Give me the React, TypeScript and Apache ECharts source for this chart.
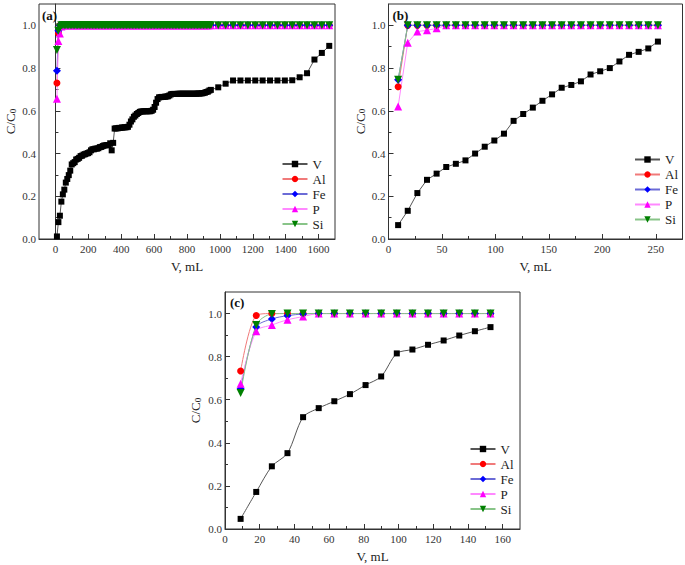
import React, { useEffect, useRef } from "react";
import * as echarts from "echarts";

// ---------- Panel (a) ----------
const aVolume = [
  9, 18, 27, 36, 45, 54, 63, 72, 81, 90,
  99, 108, 117, 126, 135, 144, 153, 162, 171, 180,
  189, 198, 207, 216, 225, 234, 243, 252, 261, 270,
  279, 288, 297, 306, 315, 324, 333, 342, 351, 360,
  369, 378, 387, 396, 405, 414, 423, 432, 441, 450,
  459, 468, 477, 486, 495, 504, 513, 522, 531, 540,
  549, 558, 567, 576, 585, 594, 603, 612, 621, 630,
  639, 648, 657, 666, 675, 684, 693, 702, 711, 720,
  729, 738, 747, 756, 765, 774, 783, 792, 801, 810,
  819, 828, 837, 846, 855, 864, 873, 882, 891, 900,
  909, 918, 927, 936, 945,
  990, 1035, 1080, 1125, 1170, 1215, 1260, 1305, 1350, 1395, 1440, 1485, 1530, 1575, 1620, 1665,
];
const aV = [
  0.012, 0.079, 0.109, 0.175, 0.209, 0.231, 0.264, 0.281, 0.299, 0.32,
  0.349, 0.355, 0.36, 0.372, 0.375, 0.38, 0.388, 0.39, 0.395, 0.397,
  0.4, 0.402, 0.406, 0.415, 0.42, 0.42, 0.423, 0.423, 0.425, 0.43,
  0.431, 0.435, 0.438, 0.438, 0.44, 0.44, 0.448, 0.415, 0.45, 0.517,
  0.518, 0.518, 0.52, 0.52, 0.522, 0.522, 0.523, 0.523, 0.525, 0.535,
  0.55, 0.56, 0.572, 0.578, 0.585, 0.59, 0.595, 0.597, 0.597, 0.598,
  0.598, 0.598, 0.598, 0.598, 0.6, 0.605, 0.618, 0.638, 0.655, 0.663,
  0.664, 0.665, 0.665, 0.666, 0.667, 0.668, 0.672, 0.677, 0.679, 0.679,
  0.679, 0.679, 0.68, 0.68, 0.68, 0.68, 0.68, 0.68, 0.68, 0.68,
  0.68, 0.68, 0.68, 0.68, 0.68, 0.681, 0.681, 0.681, 0.682, 0.683,
  0.685, 0.688, 0.69, 0.695, 0.698,
  0.71, 0.727, 0.742, 0.742, 0.742, 0.742, 0.742, 0.742, 0.742, 0.742, 0.743, 0.757, 0.776, 0.84, 0.871, 0.904,
];
const aAl = [
  0.73, 0.963, 1, 1, 1, 1, 1, 1, 1, 1,
  1, 1, 1, 1, 1, 1, 1, 1, 1, 1,
  1, 1, 1, 1, 1, 1, 1, 1, 1, 1,
  1, 1, 1, 1, 1, 1, 1, 1, 1, 1,
  1, 1, 1, 1, 1, 1, 1, 1, 1, 1,
  1, 1, 1, 1, 1, 1, 1, 1, 1, 1,
  1, 1, 1, 1, 1, 1, 1, 1, 1, 1,
  1, 1, 1, 1, 1, 1, 1, 1, 1, 1,
  1, 1, 1, 1, 1, 1, 1, 1, 1, 1,
  1, 1, 1, 1, 1, 1, 1, 1, 1, 1,
  1, 1, 1, 1, 1,
  1, 1, 1, 1, 1, 1, 1, 1, 1, 1, 1, 1, 1, 1, 1, 1,
];
const aFe = [
  0.788, 0.975, 1, 1, 1, 1, 1, 1, 1, 1,
  1, 1, 1, 1, 1, 1, 1, 1, 1, 1,
  1, 1, 1, 1, 1, 1, 1, 1, 1, 1,
  1, 1, 1, 1, 1, 1, 1, 1, 1, 1,
  1, 1, 1, 1, 1, 1, 1, 1, 1, 1,
  1, 1, 1, 1, 1, 1, 1, 1, 1, 1,
  1, 1, 1, 1, 1, 1, 1, 1, 1, 1,
  1, 1, 1, 1, 1, 1, 1, 1, 1, 1,
  1, 1, 1, 1, 1, 1, 1, 1, 1, 1,
  1, 1, 1, 1, 1, 1, 1, 1, 1, 1,
  1, 1, 1, 1, 1,
  1, 1, 1, 1, 1, 1, 1, 1, 1, 1, 1, 1, 1, 1, 1, 1,
];
const aP = [
  0.656, 0.927, 0.962, 0.995, 1, 1, 1, 1, 1, 1,
  1, 1, 1, 1, 1, 1, 1, 1, 1, 1,
  1, 1, 1, 1, 1, 1, 1, 1, 1, 1,
  1, 1, 1, 1, 1, 1, 1, 1, 1, 1,
  1, 1, 1, 1, 1, 1, 1, 1, 1, 1,
  1, 1, 1, 1, 1, 1, 1, 1, 1, 1,
  1, 1, 1, 1, 1, 1, 1, 1, 1, 1,
  1, 1, 1, 1, 1, 1, 1, 1, 1, 1,
  1, 1, 1, 1, 1, 1, 1, 1, 1, 1,
  1, 1, 1, 1, 1, 1, 1, 1, 1, 1,
  1, 1, 1, 1, 1,
  1, 1, 1, 1, 1, 1, 1, 1, 1, 1, 1, 1, 1, 1, 1, 1,
];
const aSi = [
  0.885, 0.975, 0.99, 1, 1, 1, 1, 1, 1, 1,
  1, 1, 1, 1, 1, 1, 1, 1, 1, 1,
  1, 1, 1, 1, 1, 1, 1, 1, 1, 1,
  1, 1, 1, 1, 1, 1, 1, 1, 1, 1,
  1, 1, 1, 1, 1, 1, 1, 1, 1, 1,
  1, 1, 1, 1, 1, 1, 1, 1, 1, 1,
  1, 1, 1, 1, 1, 1, 1, 1, 1, 1,
  1, 1, 1, 1, 1, 1, 1, 1, 1, 1,
  1, 1, 1, 1, 1, 1, 1, 1, 1, 1,
  1, 1, 1, 1, 1, 1, 1, 1, 1, 1,
  1, 1, 1, 1, 1,
  1, 1, 1, 1, 1, 1, 1, 1, 1, 1, 1, 1, 1, 1, 1, 1,
];

// ---------- Panel (b) ----------
const bVolume = [9, 18, 27, 36, 45, 54, 63, 72, 81, 90, 99, 108, 117, 126, 135, 144, 153, 162, 171, 180, 189, 198, 207, 216, 225, 234, 243, 252];
const bV = [0.065, 0.132, 0.215, 0.277, 0.306, 0.337, 0.352, 0.368, 0.4, 0.432, 0.461, 0.493, 0.553, 0.585, 0.615, 0.647, 0.677, 0.708, 0.721, 0.738, 0.77, 0.785, 0.8, 0.831, 0.862, 0.876, 0.892, 0.924];
const bAl = [0.713, 1, 1, 1, 1, 1, 1, 1, 1, 1, 1, 1, 1, 1, 1, 1, 1, 1, 1, 1, 1, 1, 1, 1, 1, 1, 1, 1];
const bFe = [0.746, 1, 1, 1, 1, 1, 1, 1, 1, 1, 1, 1, 1, 1, 1, 1, 1, 1, 1, 1, 1, 1, 1, 1, 1, 1, 1, 1];
const bP = [0.62, 0.919, 0.971, 0.977, 0.986, 1, 1, 1, 1, 1, 1, 1, 1, 1, 1, 1, 1, 1, 1, 1, 1, 1, 1, 1, 1, 1, 1, 1];
const bSi = [0.746, 1, 1, 1, 1, 1, 1, 1, 1, 1, 1, 1, 1, 1, 1, 1, 1, 1, 1, 1, 1, 1, 1, 1, 1, 1, 1, 1];

// ---------- Panel (c) ----------
const cVolume = [9, 18, 27, 36, 45, 54, 63, 72, 81, 90, 99, 108, 117, 126, 135, 144, 153];
const cV = [0.047, 0.172, 0.291, 0.352, 0.519, 0.561, 0.593, 0.626, 0.668, 0.708, 0.815, 0.833, 0.855, 0.875, 0.898, 0.918, 0.937];
const cAl = [0.733, 0.991, 1, 1, 1, 1, 1, 1, 1, 1, 1, 1, 1, 1, 1, 1, 1];
const cFe = [0.651, 0.937, 0.975, 0.99, 0.998, 1, 1, 1, 1, 1, 1, 1, 1, 1, 1, 1, 1];
const cP = [0.674, 0.918, 0.947, 0.971, 0.986, 1, 1, 1, 1, 1, 1, 1, 1, 1, 1, 1, 1];
const cSi = [0.631, 0.947, 0.998, 1, 1, 1, 1, 1, 1, 1, 1, 1, 1, 1, 1, 1, 1];

// ---------- Ticks ----------
const aXMajor = [0, 200, 400, 600, 800, 1000, 1200, 1400, 1600];
const aXMinor = [100, 300, 500, 700, 900, 1100, 1300, 1500];
const bXMajor = [0, 50, 100, 150, 200, 250];
const bXMinor = [25, 75, 125, 175, 225];
const cXMajor = [0, 20, 40, 60, 80, 100, 120, 140, 160];
const cXMinor = [10, 30, 50, 70, 90, 110, 130, 150];
const yMajor = [0, 0.2, 0.4, 0.6, 0.8, 1.0];
const yMinor = [0.1, 0.3, 0.5, 0.7, 0.9];

const seriesNames = ["V", "Al", "Fe", "P", "Si"];
const panelLabels = ["(a)", "(b)", "(c)"];

const FONT = "Liberation Serif";
const AXIS_COLOR = "#333";

const seriesStyles: Record<string, any> = {
  V: { symbol: "rect", symbolSize: 6, color: "#000000", line: "#555555" },
  Al: { symbol: "circle", symbolSize: 7, color: "#ff0000", line: "#f07a7a" },
  Fe: { symbol: "diamond", symbolSize: 8, color: "#0000ff", line: "#6b6bd6" },
  P: { symbol: "triangle", symbolSize: 8, color: "#ff00ff", line: "#ff88ff" },
  Si: { symbol: "path://M0,0L10,0L5,9Z", symbolSize: 8, color: "#008000", line: "#88c488" },
};

function zip(xs: number[], ys: number[]) {
  return ys.map((y, i) => [xs[i], y]);
}

export default function App() {
  const ref = useRef<HTMLDivElement>(null);

  useEffect(() => {
    if (!ref.current) return;
    const chart = echarts.init(ref.current, null, { renderer: "svg" });

    const grids = [
      { left: 39, top: 4, width: 296, height: 235 },
      { left: 388.5, top: 4, width: 294, height: 235 },
      { left: 225, top: 292, width: 295, height: 237 },
    ];
    const xRanges = [
      { min: -100, max: 1700, major: aXMajor, minor: aXMinor },
      { min: 0, max: 275, major: bXMajor, minor: bXMinor },
      { min: 0, max: 170, major: cXMajor, minor: cXMinor },
    ];
    const yNameGaps = [22, 22, 23];

    const xAxes: any[] = [];
    const yAxes: any[] = [];
    xRanges.forEach((r, i) => {
      xAxes.push({
        type: "value",
        gridIndex: i,
        position: "bottom",
        min: r.min,
        max: r.max,
        name: "V, mL",
        nameLocation: "middle",
        nameGap: 21,
        nameTextStyle: { fontFamily: FONT, fontSize: 13, color: "#222" },
        axisLine: { show: true, lineStyle: { color: AXIS_COLOR, width: 1 } },
        axisTick: { show: true, inside: true, length: 5, customValues: r.major, lineStyle: { color: AXIS_COLOR } },
        axisLabel: { show: true, customValues: r.major, fontFamily: FONT, fontSize: 11, color: "#333", margin: 4, formatter: (v: number) => String(v) },
        splitLine: { show: false },
      });
      yAxes.push({
        type: "value",
        gridIndex: i,
        position: "left",
        min: 0,
        max: 1.1,
        name: "C/C{sub|0}",
        nameLocation: "middle",
        nameGap: yNameGaps[i],
        nameTextStyle: {
          fontFamily: FONT,
          fontSize: 13,
          color: "#222",
          rich: { sub: { fontFamily: FONT, fontSize: 9, color: "#222", verticalAlign: "bottom", padding: [4, 0, 0, 0] } },
        },
        axisLine: { show: true, lineStyle: { color: AXIS_COLOR, width: 1 } },
        axisTick: { show: true, inside: true, length: 5, customValues: yMajor, lineStyle: { color: AXIS_COLOR } },
        axisLabel: { show: true, customValues: yMajor, fontFamily: FONT, fontSize: 11, color: "#333", margin: 3, formatter: (v: number) => v.toFixed(1) },
        splitLine: { show: false },
      });
    });
    xRanges.forEach((r, i) => {
      xAxes.push({
        type: "value",
        gridIndex: i,
        position: "bottom",
        min: r.min,
        max: r.max,
        axisLine: { show: false },
        axisTick: { show: true, inside: true, length: 3, customValues: r.minor, lineStyle: { color: AXIS_COLOR } },
        axisLabel: { show: false },
        splitLine: { show: false },
      });
      yAxes.push({
        type: "value",
        gridIndex: i,
        position: "left",
        min: 0,
        max: 1.1,
        axisLine: { show: false },
        axisTick: { show: true, inside: true, length: 3, customValues: yMinor, lineStyle: { color: AXIS_COLOR } },
        axisLabel: { show: false },
        splitLine: { show: false },
      });
    });

    const panelData = [
      { x: aVolume, ys: { V: aV, Al: aAl, Fe: aFe, P: aP, Si: aSi }, smooth: false },
      { x: bVolume, ys: { V: bV, Al: bAl, Fe: bFe, P: bP, Si: bSi }, smooth: false },
      { x: cVolume, ys: { V: cV, Al: cAl, Fe: cFe, P: cP, Si: cSi }, smooth: 0.3 },
    ];

    const series: any[] = [];
    panelData.forEach((p, i) => {
      seriesNames.forEach((name) => {
        const st = seriesStyles[name];
        series.push({
          type: "line",
          name,
          xAxisIndex: i,
          yAxisIndex: i,
          data: zip(p.x, (p.ys as any)[name]),
          symbol: st.symbol,
          symbolSize: st.symbolSize,
          showAllSymbol: true,
          smooth: p.smooth,
          itemStyle: { color: st.color, borderColor: st.color, borderWidth: 0 },
          lineStyle: { color: st.line, width: 1 },
          emphasis: { disabled: true },
          z: 2,
        });
      });
    });

    const legendPos = [
      { left: 281.5, top: 157.5 },
      { left: 634, top: 153 },
      { left: 469.5, top: 442.5 },
    ];
    const legends = legendPos.map((lp) => ({
      orient: "vertical",
      left: lp.left,
      top: lp.top,
      data: seriesNames,
      itemWidth: 25,
      itemHeight: 8,
      itemGap: 2,
      padding: 0,
      selectedMode: false,
      textStyle: { fontFamily: FONT, fontSize: 13, color: "#222", padding: [0, 0, 0, 0] },
    }));

    const labelPos = [
      { left: 42, top: 8.5 },
      { left: 392.5, top: 8.5 },
      { left: 230, top: 296 },
    ];
    const graphic = labelPos.map((lp, i) => ({
      type: "text",
      left: lp.left,
      top: lp.top,
      style: { text: panelLabels[i], fontFamily: FONT, fontSize: 13, fontWeight: "bold", fill: "#111" },
      z: 10,
    }));

    chart.setOption({
      animation: false,
      backgroundColor: "#ffffff",
      textStyle: { fontFamily: FONT },
      grid: grids.map((g) => ({ ...g, show: true, borderColor: AXIS_COLOR, borderWidth: 1, backgroundColor: "transparent" })),
      xAxis: xAxes,
      yAxis: yAxes,
      legend: legends,
      graphic,
      series,
    });

    return () => {
      chart.dispose();
    };
  }, []);

  return (
    <div
      ref={ref}
      style={{ position: "fixed", left: 0, top: 0, width: 685, height: 565, background: "#fff" }}
    />
  );
}
